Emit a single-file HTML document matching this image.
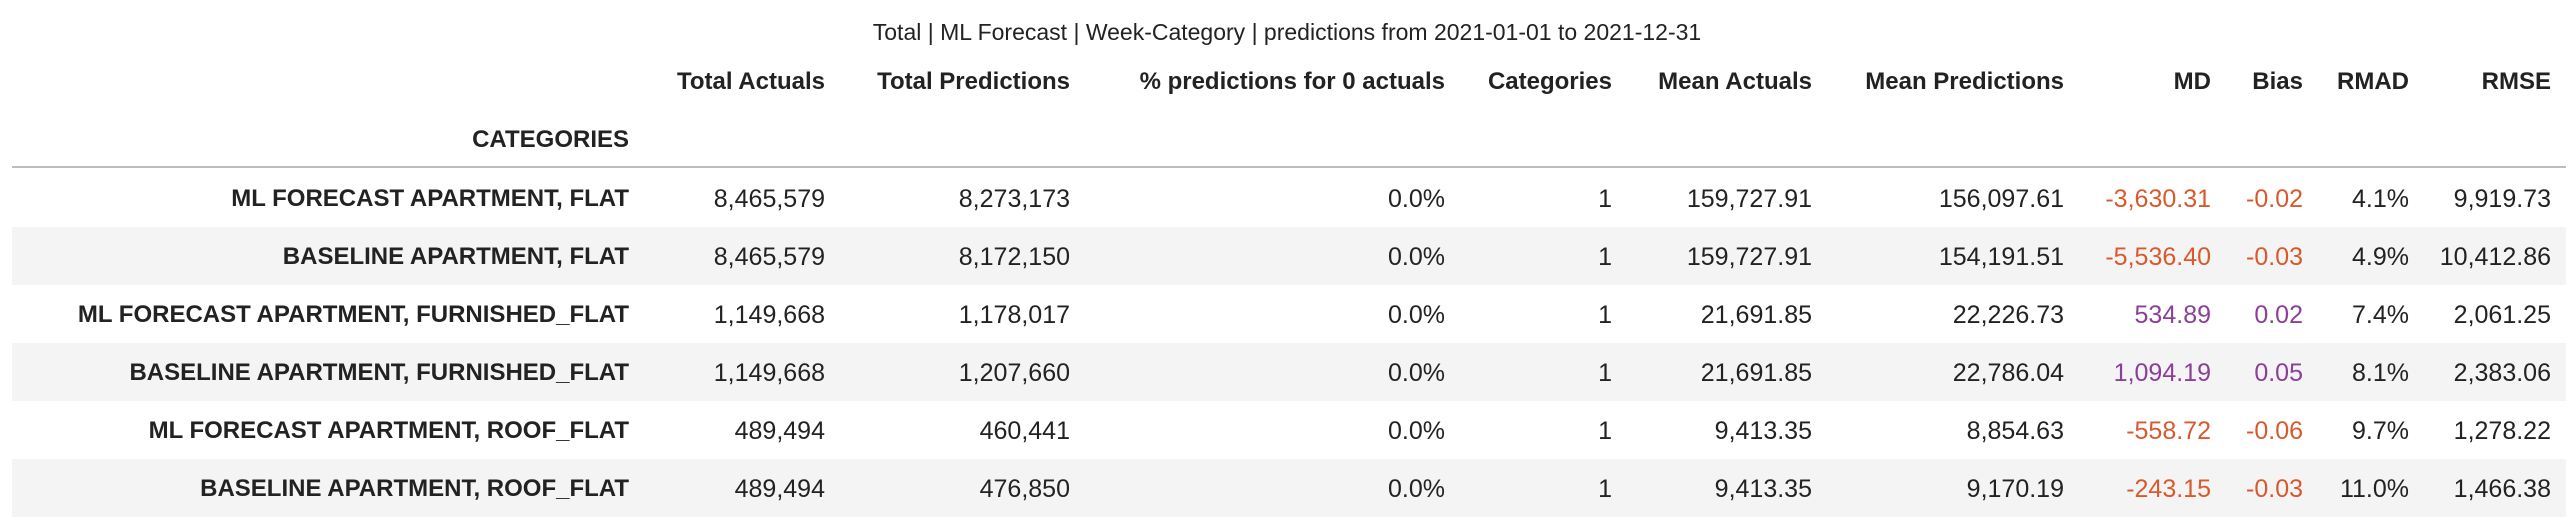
<!DOCTYPE html>
<html><head><meta charset="utf-8"><style>
html,body{margin:0;padding:0;background:#fff;width:2574px;height:524px;overflow:hidden;font-family:"Liberation Sans",sans-serif;color:#222;}
.t{position:absolute;white-space:nowrap;line-height:30px;transform:translateY(-50%);}
.r{text-align:right;}
.h{font-weight:bold;font-size:24px;}
.c{font-size:25px;}
.row{position:absolute;left:12px;width:2554px;height:58px;}
</style></head><body>
<div id="root" style="position:relative;width:2574px;height:524px;">
<div class="t" style="left:0;width:2574px;text-align:center;top:32px;font-size:23px;">Total | ML Forecast | Week-Category | predictions from 2021-01-01 to 2021-12-31</div>
<div style="position:absolute;left:12px;width:2554px;top:166px;height:2px;background:#bdbdbd;"></div>
</div>
<script>
const headers=["Total Actuals","Total Predictions","% predictions for 0 actuals","Categories","Mean Actuals","Mean Predictions","MD","Bias","RMAD","RMSE"];
const labels=["ML FORECAST APARTMENT, FLAT","BASELINE APARTMENT, FLAT","ML FORECAST APARTMENT, FURNISHED_FLAT","BASELINE APARTMENT, FURNISHED_FLAT","ML FORECAST APARTMENT, ROOF_FLAT","BASELINE APARTMENT, ROOF_FLAT"];
const totalActuals=["8,465,579","8,465,579","1,149,668","1,149,668","489,494","489,494"];
const totalPreds=["8,273,173","8,172,150","1,178,017","1,207,660","460,441","476,850"];
const pctZero=["0.0%","0.0%","0.0%","0.0%","0.0%","0.0%"];
const cats=["1","1","1","1","1","1"];
const meanActuals=["159,727.91","159,727.91","21,691.85","21,691.85","9,413.35","9,413.35"];
const meanPreds=["156,097.61","154,191.51","22,226.73","22,786.04","8,854.63","9,170.19"];
const md=["-3,630.31","-5,536.40","534.89","1,094.19","-558.72","-243.15"];
const bias=["-0.02","-0.03","0.02","0.05","-0.06","-0.03"];
const rmad=["4.1%","4.9%","7.4%","8.1%","9.7%","11.0%"];
const rmse=["9,919.73","10,412.86","2,061.25","2,383.06","1,278.22","1,466.38"];
const cols=[totalActuals,totalPreds,pctZero,cats,meanActuals,meanPreds,md,bias,rmad,rmse];
const rights=[825,1070,1445,1612,1812,2064,2211,2303,2409,2551];
const root=document.getElementById('root');
function txt(s,right,y,cls,color){
  const d=document.createElement('div');
  d.className='t r '+cls;
  d.style.right=(2574-right)+'px';d.style.top=y+'px';
  if(color)d.style.color=color;
  d.textContent=s;root.appendChild(d);return d;
}
headers.forEach((h,i)=>{
  const d=txt(h,rights[i],82,'h');
  
  
});
const ch=txt("CATEGORIES",629,140,'h');


labels.forEach((lab,r)=>{
  const top=169+r*58;
  const bg=document.createElement('div');
  bg.className='row';bg.style.top=top+'px';
  bg.style.background=r%2?'#f4f4f4':'#fff';
  
  
  root.appendChild(bg);
  const y=top+30;
  const l=txt(lab,629,y,'h');
  
  
  cols.forEach((col,i)=>{
    let color=null;
    if(i===6||i===7){color=col[r].startsWith('-')?'#d9592d':'#8b3f98';}
    const c=txt(col[r],rights[i],y,'c',color);
    
    
  });
});
</script>
</body></html>
